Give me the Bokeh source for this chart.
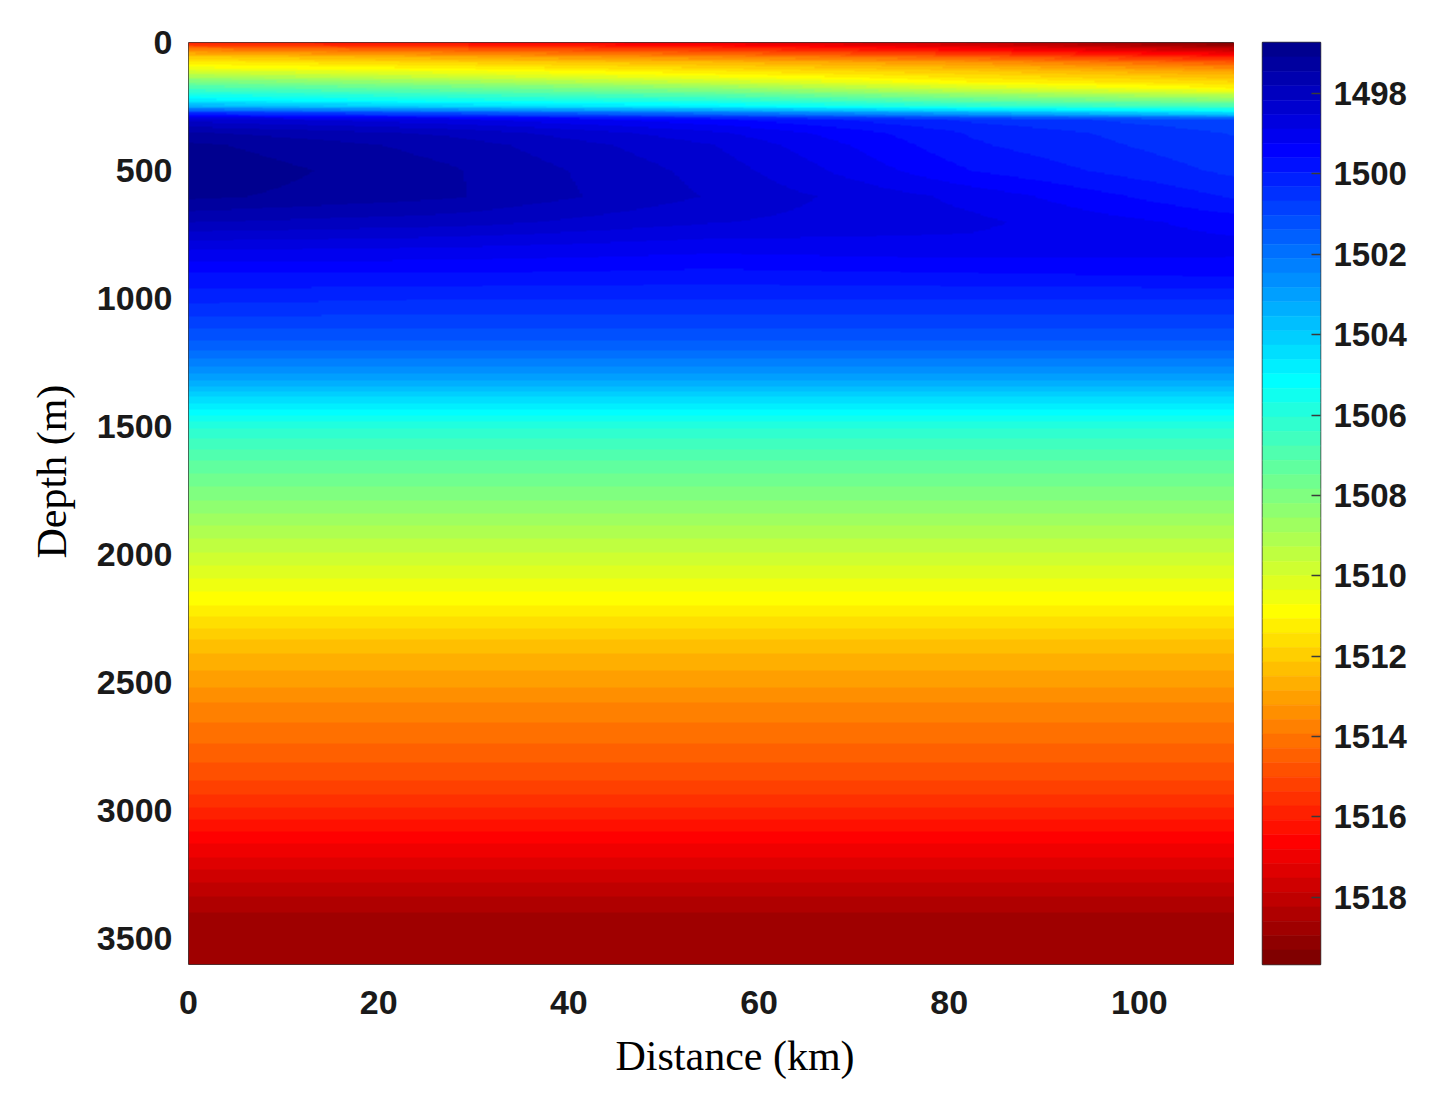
import numpy as np
from bokeh.plotting import figure
from bokeh.layouts import row
from bokeh.models import Range1d, FixedTicker, LinearAxis, LinearColorMapper, Title
from bokeh.embed import file_html
from bokeh.resources import INLINE

# ---------------- data ----------------
distance_km = [0.0, 27.5, 55.0, 82.5, 110.0]

depth_upper_m = [0, 25, 50, 75, 100, 125, 150, 175, 200, 225, 250, 275, 300,
                 350, 400, 500, 600, 700, 800, 900, 1000]

speed_upper_0km = [1515.8, 1513.8, 1512.2, 1511.3, 1510.5, 1509.2, 1507.9, 1506.8,
                   1505.7, 1504.7, 1503.2, 1500.2, 1498.3, 1497.4, 1497.0, 1496.8,
                   1497.0, 1497.8, 1498.8, 1499.6, 1500.2]
speed_upper_27km = [1516.4, 1514.6, 1513.0, 1511.9, 1511.0, 1510.0, 1508.8, 1507.6,
                    1506.5, 1505.4, 1504.0, 1501.0, 1498.8, 1497.9, 1497.6, 1497.4,
                    1497.4, 1498.0, 1498.9, 1499.6, 1500.3]
speed_upper_55km = [1517.0, 1515.4, 1513.8, 1512.5, 1511.7, 1510.9, 1509.8, 1508.5,
                    1507.2, 1505.9, 1504.7, 1501.8, 1499.5, 1498.8, 1498.5, 1498.3,
                    1498.2, 1498.5, 1499.1, 1499.7, 1500.3]
speed_upper_82km = [1517.9, 1516.6, 1514.8, 1513.3, 1512.4, 1511.7, 1511.1, 1510.0,
                    1508.6, 1507.2, 1505.8, 1503.0, 1500.4, 1500.0, 1499.9, 1499.6,
                    1499.0, 1498.8, 1499.0, 1499.6, 1500.3]
speed_upper_110km = [1519.4, 1517.9, 1516.3, 1514.7, 1513.4, 1512.5, 1511.8, 1511.1,
                     1509.6, 1508.0, 1506.5, 1504.2, 1501.0, 1500.7, 1500.6, 1500.4,
                     1500.0, 1499.4, 1499.1, 1499.5, 1500.3]

depth_deep_m = [1100, 1200, 1300, 1400, 1500, 1600, 1700, 1800, 1900, 2000, 2100,
                2200, 2300, 2400, 2500, 2600, 2700, 2800, 2900, 3000, 3100, 3200,
                3300, 3400, 3500, 3600]
speed_deep = [1500.9, 1501.7, 1502.9, 1504.5, 1506.0, 1506.9, 1507.6, 1508.3, 1509.0,
              1509.7, 1510.4, 1511.1, 1511.9, 1512.6, 1513.1, 1513.7, 1514.1, 1514.6,
              1515.1, 1515.8, 1516.6, 1517.3, 1518.0, 1518.6, 1518.7, 1518.7]

x_ticks = [0, 20, 40, 60, 80, 100]
y_ticks = [0, 500, 1000, 1500, 2000, 2500, 3000, 3500]
cbar_ticks = [1498, 1500, 1502, 1504, 1506, 1508, 1510, 1512, 1514, 1516, 1518]
c_low, c_high = 1496.73, 1519.67
x_title = "Distance (km)"
y_title = "Depth (m)"

# ---------------- MATLAB jet(64) palette ----------------
def jet(m=64):
    n = int(np.ceil(m / 4))
    u = np.concatenate([np.arange(1, n + 1) / n, np.ones(n - 1), np.arange(n, 0, -1) / n])
    g = int(np.ceil(n / 2)) - (1 if m % 4 == 1 else 0) + np.arange(1, len(u) + 1)
    r = g + n
    b = g - n
    J = np.zeros((m, 3))
    J[r[r <= m] - 1, 0] = u[r <= m]
    J[g[g <= m] - 1, 1] = u[g <= m]
    J[b[b >= 1] - 1, 2] = u[b >= 1]
    return ["#%02x%02x%02x" % tuple(int(round(v * 255)) for v in c) for c in J]

palette = jet(64)

# ---------------- raster for display (shading between read nodes) ----------------
columns = [speed_upper_0km, speed_upper_27km, speed_upper_55km, speed_upper_82km, speed_upper_110km]
depth_nodes = np.array(depth_upper_m + depth_deep_m, dtype=float)
node_table = np.array([col + speed_deep for col in columns])

zs = np.linspace(0, 3600, 721)
xs = np.linspace(0, 110, 441)
per_col = np.array([np.interp(zs, depth_nodes, node_table[k]) for k in range(len(columns))])
field = np.array([np.interp(xs, distance_km, per_col[:, i]) for i in range(len(zs))])

mapper = LinearColorMapper(palette=palette, low=c_low, high=c_high)

# ---------------- main figure ----------------
p = figure(frame_width=1046, frame_height=922,
           x_range=Range1d(0, 110), y_range=Range1d(3600, 0),
           output_backend="svg", toolbar_location=None,
           min_border_left=188, min_border_top=42, min_border_right=0)
p.image(image=[field], x=0, y=0, dw=110, dh=3600, color_mapper=mapper)

p.xgrid.visible = False
p.ygrid.visible = False
p.outline_line_color = "#3a3a3a"
p.outline_line_width = 1
p.background_fill_color = "white"

tick_font = "Liberation Sans"
for ax in (p.xaxis[0], p.yaxis[0]):
    ax.major_tick_in = 0
    ax.major_tick_out = 0
    ax.minor_tick_in = 0
    ax.minor_tick_out = 0
    ax.axis_line_color = None
    ax.major_label_text_font = tick_font
    ax.major_label_text_font_style = "bold"
    ax.major_label_text_font_size = "34px"
    ax.major_label_text_color = "#1a1a1a"

p.xaxis[0].ticker = FixedTicker(ticks=x_ticks)
p.yaxis[0].ticker = FixedTicker(ticks=y_ticks)
p.xaxis[0].major_label_standoff = 26
p.yaxis[0].major_label_standoff = 16

# axis titles as side titles so that they can be placed like the original
xt = Title(text=x_title, align="left", offset=427, standoff=28,
           text_font="Liberation Serif", text_font_style="normal",
           text_font_size="42px", text_color="black")
yt = Title(text=y_title, align="left", offset=406, standoff=38,
           text_font="Liberation Serif", text_font_style="normal",
           text_font_size="42px", text_color="black")
p.add_layout(xt, "below")
p.add_layout(yt, "left")

# ---------------- colour bar figure ----------------
cb = figure(frame_width=58, frame_height=922,
            x_range=Range1d(0, 1), y_range=Range1d(c_high, c_low),
            output_backend="svg", toolbar_location=None,
            x_axis_location=None, y_axis_location=None,
            min_border_left=28, min_border_top=42, min_border_right=20,
            min_border_bottom=10)
edges = np.linspace(c_low, c_high, len(palette) + 1)
cb.quad(left=0, right=1, bottom=edges[:-1], top=edges[1:], fill_color=palette,
        line_color=palette, line_width=0.6)
cb.xgrid.visible = False
cb.ygrid.visible = False
cb.outline_line_color = "#3a3a3a"
cb.outline_line_width = 1.5

cax = LinearAxis(ticker=FixedTicker(ticks=cbar_ticks))
cax.axis_line_color = None
cax.major_tick_in = 9
cax.major_tick_out = 0
cax.major_tick_line_color = "#3a3a3a"
cax.major_tick_line_width = 1.5
cax.minor_tick_in = 0
cax.minor_tick_out = 0
cax.major_label_text_font = tick_font
cax.major_label_text_font_style = "bold"
cax.major_label_text_font_size = "33px"
cax.major_label_text_color = "#1a1a1a"
cax.major_label_standoff = 13
cb.add_layout(cax, "right")

layout = row(p, cb)
open("out.html", "w").write(file_html(layout, INLINE))
